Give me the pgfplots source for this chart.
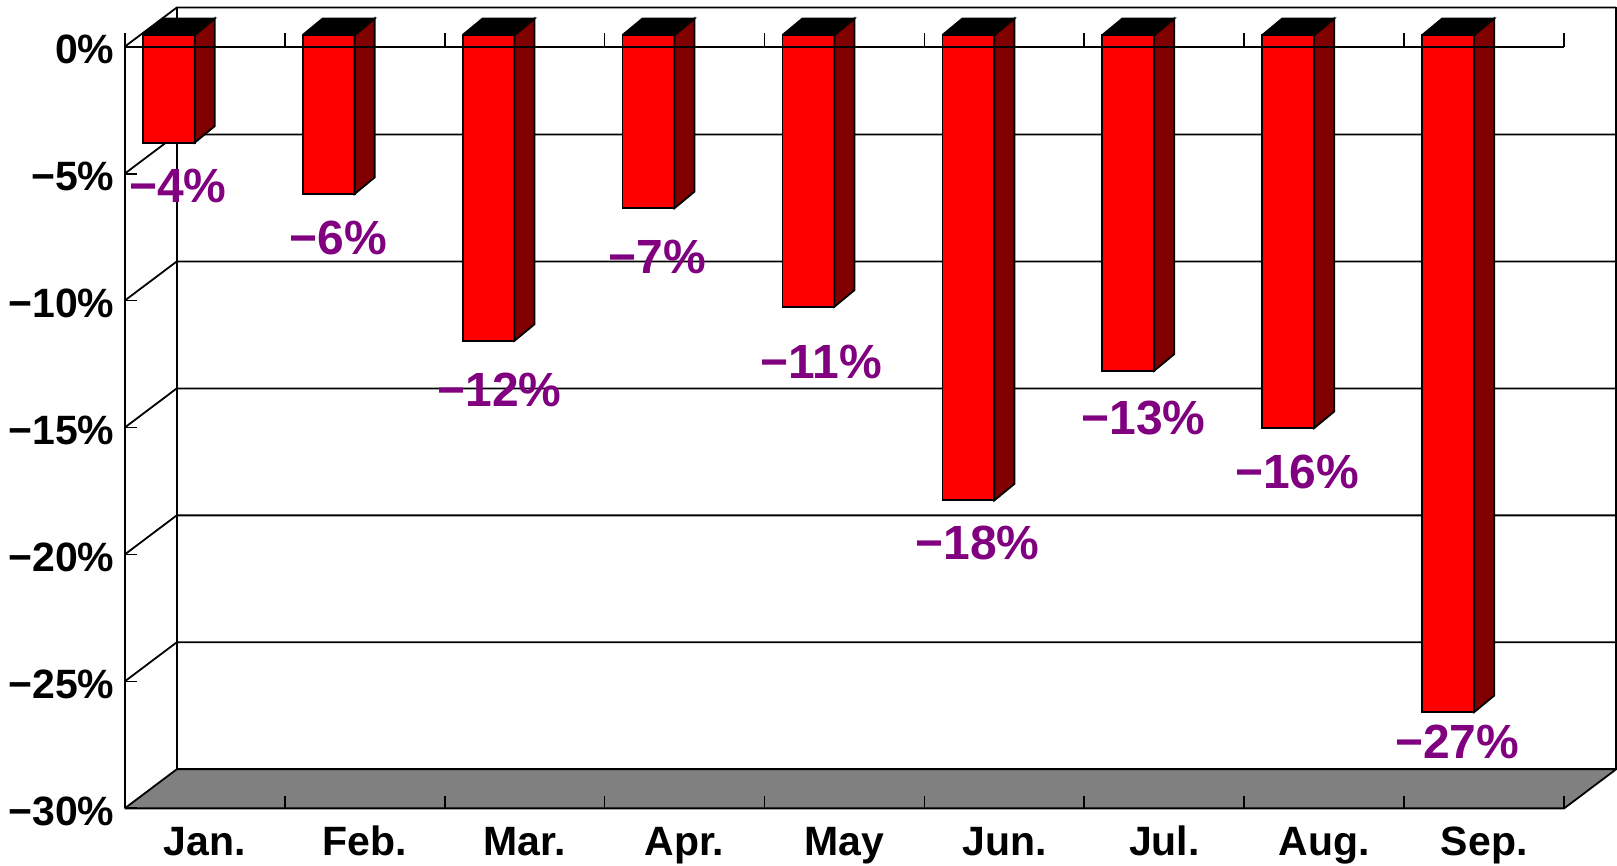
\documentclass[border=0pt]{standalone}
\usepackage{fontspec}
\setmainfont{Liberation Sans}
\usepackage{pgfplots}
\usepackage{pgfplotstable}
\pgfplotsset{compat=1.18}

\definecolor{barred}{RGB}{255,0,0}
\definecolor{barside}{RGB}{128,0,0}
\definecolor{lblpurple}{RGB}{128,0,128}
\definecolor{floorgray}{RGB}{128,128,128}

% monthly change, %
\pgfplotstableread{
idx val
0 -4.24
1 -6.26
2 -12.04
3 -6.82
4 -10.70
5 -18.33
6 -13.22
7 -15.48
8 -26.67
}\bars

\begin{document}
\begin{tikzpicture}
\begin{axis}[
  x=80pt, y=12.7pt,
  xmin=0, xmax=9, ymin=-30, ymax=0,
  enlargelimits=false, clip=false,
  axis line style={draw=none}, tick style={draw=none}, major tick length=0pt,
  xtick={0.5,1.5,...,8.5},
  xticklabels={Jan.,Feb.,Mar.,Apr.,May,Jun.,Jul.,Aug.,Sep.},
  ytick={-30,-25,...,0},
  yticklabels={−30\%,−25\%,−20\%,−15\%,−10\%,−5\%,0\%},
  ticklabel style={font=\fontsize{20.5}{24}\selectfont\bfseries, inner sep=0pt},
  xticklabel style={anchor=base, yshift=-23.5pt},
  yticklabel style={anchor=east, xshift=-5pt, yshift=-1.5pt},
]
% page extent
\addplot[draw=none] coordinates {(-0.78,1.84) (9.325,-32.26)};

% back wall
\addplot[fill=white, draw=black, line width=0.9pt] coordinates {(0.325,-28.46) (9.325,-28.46) (9.325,1.54) (0.325,1.54) (0.325,-28.46)};
% grid lines on side and back walls
\pgfplotsinvokeforeach{-25,-20,-15,-10,-5,0}{
  \pgfmathsetmacro\yy{#1+1.54}
  \edef\tmp{\noexpand\addplot[black, line width=0.9pt] coordinates {(0,#1) (0.325,\yy) (9.325,\yy)};}\tmp
}
% floor
\addplot[fill=floorgray, draw=black, line width=0.9pt] coordinates {(0,-30) (9,-30) (9.325,-28.46) (0.325,-28.46) (0,-30)};
\pgfplotsinvokeforeach{1,...,9}{
  \addplot[black, line width=0.9pt] coordinates {(#1,-30) (#1,-29.53)};
}
% value axis
\addplot[black, line width=0.9pt] coordinates {(0,-30) (0,0.54)};
\pgfplotsinvokeforeach{-30,-25,-20,-15,-10,-5}{
  \addplot[black, line width=0.9pt] coordinates {(0,#1) (0.075,#1)};
}

% bars: front faces
\addplot[ybar, bar width=0.325, fill=barred, draw=black, line width=0.9pt, yshift=5.85pt]
  table[x expr=\thisrow{idx}+0.275, y=val] {\bars};
% bars: side and top faces
\pgfplotsinvokeforeach{0,...,8}{
  \pgfplotstablegetelem{#1}{val}\of\bars
  \pgfmathsetmacro\xa{#1+0.1125}
  \pgfmathsetmacro\xb{#1+0.4375}
  \pgfmathsetmacro\xc{#1+0.5625}
  \pgfmathsetmacro\xd{#1+0.2375}
  \pgfmathsetmacro\ya{\pgfplotsretval+0.46}
  \pgfmathsetmacro\yb{\pgfplotsretval+1.11}
  \edef\tmp{\noexpand\addplot[fill=barside, draw=black, line width=0.9pt] coordinates {(\xb,0.46) (\xc,1.11) (\xc,\yb) (\xb,\ya) (\xb,0.46)};
    \noexpand\addplot[fill=black, draw=black, line width=0.9pt] coordinates {(\xa,0.46) (\xb,0.46) (\xc,1.11) (\xd,1.11) (\xa,0.46)};}\tmp
}

% category axis at 0 %
\addplot[black, line width=0.9pt] coordinates {(0,0) (9,0)};
\pgfplotsinvokeforeach{1,...,9}{
  \addplot[black, line width=0.9pt] coordinates {(#1,0) (#1,0.54)};
}

% data labels
\addplot[draw=none, nodes near coords, point meta=explicit symbolic,
  every node near coord/.append style={anchor=center, inner sep=0pt, text=lblpurple,
    font=\fontsize{24}{28}\selectfont\bfseries}]
coordinates {
(0.331,-5.484)[−4\%]
(1.3375,-7.531)[−6\%]
(2.344,-13.516)[−12\%]
(3.331,-8.299)[−7\%]
(4.356,-12.413)[−11\%]
(5.331,-19.539)[−18\%]
(6.369,-14.618)[−13\%]
(7.331,-16.732)[−16\%]
(8.331,-27.394)[−27\%]
};
\end{axis}
\end{tikzpicture}
\end{document}
